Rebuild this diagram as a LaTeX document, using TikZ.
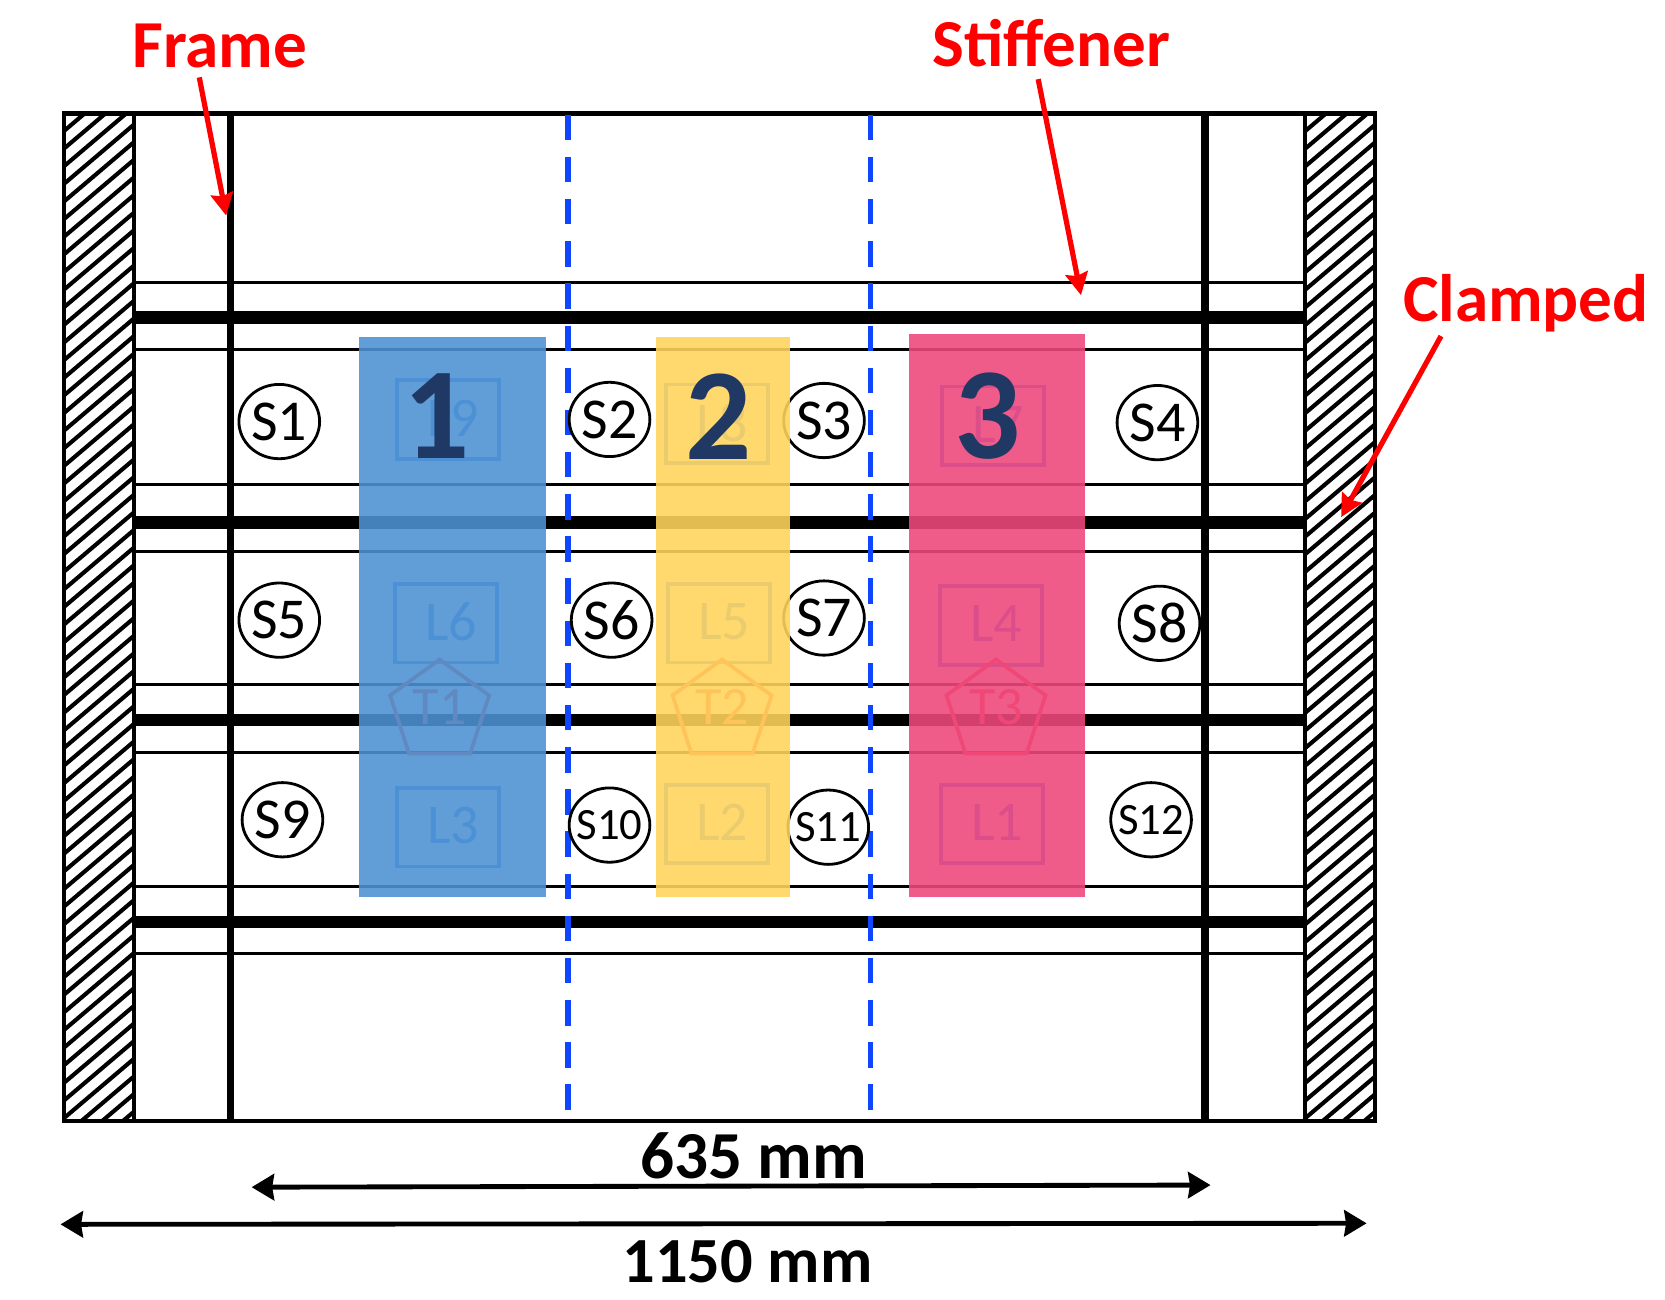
\documentclass[tikz,border=0pt]{standalone}
\usepackage{fontspec}
\setmainfont{Carlito}
\definecolor{labelred}{RGB}{255, 0, 0}
\definecolor{dashblue}{RGB}{15, 70, 255}
\definecolor{sensorblue}{RGB}{70, 135, 255}
\definecolor{tipred}{RGB}{255, 70, 70}
\definecolor{zoneblue}{RGB}{77, 146, 210}
\definecolor{zoneyellow}{RGB}{255, 212, 92}
\definecolor{zonepink}{RGB}{238, 72, 124}
\definecolor{zonenavy}{RGB}{32, 56, 100}
\usetikzlibrary{arrows.meta, shapes.geometric}
\newcommand{\loadtxt}[1]{\hspace{5.6pt}\raisebox{1.7pt}{#1}}
\tikzset{
  strainnode/.style={draw, fill=white, ellipse, line width=1.5pt, minimum width=1.52cm, minimum height=1.4cm, inner sep=0pt, font=\fontsize{31}{34}\selectfont},
  strainsmall/.style={strainnode, font=\fontsize{24}{26}\selectfont},
  loadbox/.style={draw=sensorblue, text=sensorblue, line width=2pt, minimum width=1.92cm, minimum height=1.48cm, inner sep=0pt, font=\fontsize{30}{32}\selectfont},
  tipnode/.style={draw=tipred, text=tipred, regular polygon, regular polygon sides=5, line width=2pt, minimum size=1.96cm, inner sep=0pt, font=\fontsize{29}{32}\selectfont},
  zonenum/.style={text=zonenavy, inner sep=0pt, font=\fontsize{70}{74}\selectfont\bfseries},
  redlabel/.style={text=labelred, inner sep=0pt, font=\fontsize{36}{38}\selectfont\bfseries},
  dimlabel/.style={inner sep=0pt, font=\fontsize{34.5}{36}\selectfont\bfseries},
  redarrow/.style={-{Stealth[length=12pt, width=12pt, inset=1.5pt]}, line width=2.8pt, labelred},
  dimarrow/.style={{Stealth[length=12pt, width=14pt, inset=1pt]}-{Stealth[length=12pt, width=14pt, inset=1pt]}, line width=2.6pt},
  stiffthin/.style={line width=1.7pt},
  stiffthick/.style={line width=6.6pt},
  framebar/.style={line width=4pt},
  splitline/.style={dashblue, line width=2.8pt, dash pattern=on 13.6pt off 9pt},
  hatchline/.style={line width=2.2pt},
}
\begin{document}
\begin{tikzpicture}[x=0.02cm, y=-0.02cm]
  \useasboundingbox (0, 0) rectangle (1568, 1223.4);

  % Clamped edges
  \begin{scope}
    \clip (60, 107) rectangle (126, 1056);
    \foreach \k in {107, 123.6, ..., 1130} {
      \draw[hatchline] (60, \k) -- ++(66, -56);
    }
  \end{scope}
  \begin{scope}
    \clip (1229, 107) rectangle (1295, 1056);
    \foreach \k in {107, 123.6, ..., 1130} {
      \draw[hatchline] (1229, \k) -- ++(66, -56);
    }
  \end{scope}
  \draw[line width=2.3pt] (60, 107) rectangle (1295, 1056);
  \draw[line width=2.3pt] (126, 107) -- (126, 1056);
  \draw[line width=2.3pt] (1229, 107) -- (1229, 1056);

  % Stiffeners
  \draw[stiffthin] (126, 266) -- (1229, 266);
  \draw[stiffthick] (126, 299) -- (1229, 299);
  \draw[stiffthin] (126, 329) -- (1229, 329);
  \draw[stiffthin] (126, 456) -- (1229, 456);
  \draw[stiffthick] (126, 492) -- (1229, 492);
  \draw[stiffthin] (126, 519) -- (1229, 519);
  \draw[stiffthin] (126, 645) -- (1229, 645);
  \draw[stiffthick] (126, 678) -- (1229, 678);
  \draw[stiffthin] (126, 709) -- (1229, 709);
  \draw[stiffthin] (126, 835) -- (1229, 835);
  \draw[stiffthick] (126, 868) -- (1229, 868);
  \draw[stiffthin] (126, 898) -- (1229, 898);

  % Frames
  \draw[framebar] (217, 107) -- (217, 1056);
  \draw[framebar] (1135, 107) -- (1135, 1056);

  % Zone limits
  \draw[splitline] (535, 108) -- (535, 1056);
  \draw[splitline] (820, 108) -- (820, 1056);

  % Load boxes
  \node[loadbox] (l9) at (422, 395) {\loadtxt{L9}};
  \node[loadbox] (l8) at (675, 399) {\loadtxt{L8}};
  \node[loadbox] (l7) at (935, 401) {\loadtxt{L7}};
  \node[loadbox] (l6) at (420, 587) {\loadtxt{L6}};
  \node[loadbox] (l5) at (677, 587) {\loadtxt{L5}};
  \node[loadbox] (l4) at (933, 589) {\loadtxt{L4}};
  \node[loadbox] (l3) at (422, 779) {\loadtxt{L3}};
  \node[loadbox] (l2) at (675, 776) {\loadtxt{L2}};
  \node[loadbox] (l1) at (934, 776) {\loadtxt{L1}};

  % Tips
  \node[tipnode] (t1) at (414, 670) {\raisebox{5pt}{T1}};
  \node[tipnode] (t2) at (680, 670) {\raisebox{5pt}{T2}};
  \node[tipnode] (t3) at (938, 670) {\raisebox{5pt}{T3}};

  % Strain gauges
  \node[strainnode] (s1) at (263, 397) {S1};
  \node[strainnode] (s2) at (574, 395) {S2};
  \node[strainnode] (s3) at (776, 396) {S3};
  \node[strainnode] (s4) at (1090, 398) {S4};
  \node[strainnode] (s5) at (263, 584) {S5};
  \node[strainnode] (s6) at (576, 584) {S6};
  \node[strainnode] (s7) at (776, 582) {S7};
  \node[strainnode] (s8) at (1092, 587) {S8};
  \node[strainnode] (s9) at (266, 772) {S9};
  \node[strainsmall] (s10) at (574, 777) {\makebox[0pt]{S10}};
  \node[strainsmall] (s11) at (780, 779) {\makebox[0pt]{S11}};
  \node[strainsmall] (s12) at (1084, 772) {\makebox[0pt]{S12}};

  % Zones
  \fill[zoneblue, opacity=0.89] (338, 317) rectangle (514, 845);
  \fill[zoneyellow, opacity=0.89] (618, 317) rectangle (744, 845);
  \fill[zonepink, opacity=0.89] (856, 315) rectangle (1022, 845);
  \node[zonenum] (z1) at (411, 392) {1};
  \node[zonenum] (z2) at (677, 392) {2};
  \node[zonenum] (z3) at (930, 392) {3};

  % Labels
  \node[redlabel] (framelbl) at (207, 43) {Frame};
  \node[redlabel] (stifflbl) at (990, 41) {Stiffener};
  \node[redlabel] (clamplbl) at (1437, 286) {Clamped};
  \coordinate (framept) at (213, 203);
  \coordinate (stiffpt) at (1018, 278);
  \coordinate (clamppt) at (1263, 487);
  \draw[redarrow] ([xshift=-11pt, yshift=-5pt]framelbl.south) -- (framept);
  \draw[redarrow] ([xshift=-7pt, yshift=-6.1pt]stifflbl.south) -- (stiffpt);
  \draw[redarrow] ([xshift=-45.5pt, yshift=-1.7pt]clamplbl.south) -- (clamppt);

  % Dimensions
  \coordinate (innerl) at (237, 1118);
  \coordinate (innerr) at (1140, 1116);
  \coordinate (outerl) at (57, 1153);
  \coordinate (outerr) at (1287, 1152);
  \draw[dimarrow] (innerl) -- (innerr);
  \draw[dimarrow] (outerl) -- (outerr);
  \node[dimlabel, font=\fontsize{36}{38}\selectfont\bfseries] (innerlbl) at (710, 1088) {635 mm};
  \node[dimlabel] (outerlbl) at (704, 1188) {1150 mm};
\end{tikzpicture}
\end{document}
